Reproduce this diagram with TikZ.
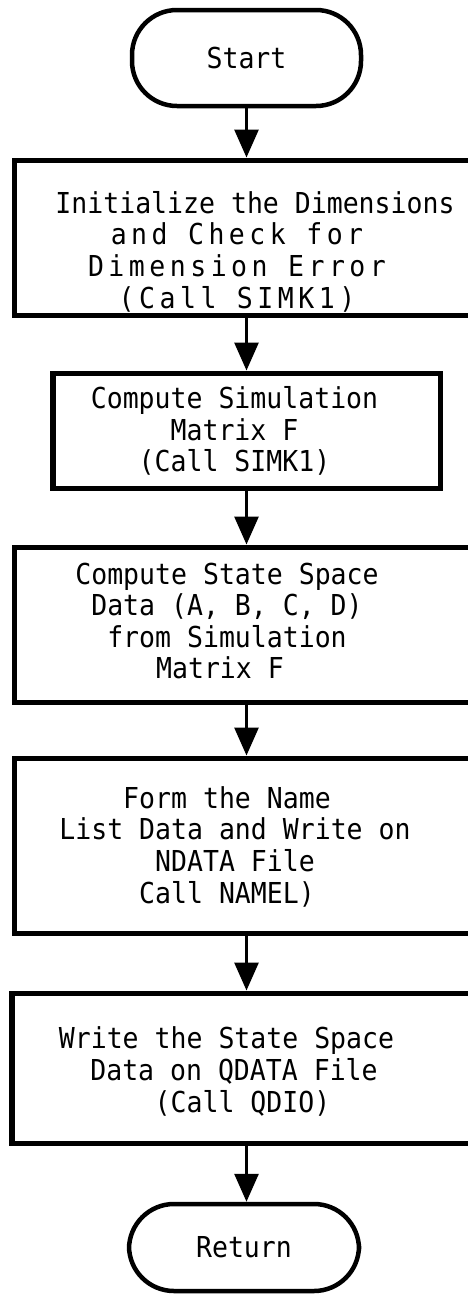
\documentclass[tikz,border=0pt]{standalone}
\usepackage{fontspec}
\usetikzlibrary{arrows.meta}
\newfontfamily\typer[FakeStretch=0.92]{DejaVu Sans Mono}
\newfontfamily\typerwide[FakeStretch=0.92,LetterSpace=15.6]{DejaVu Sans Mono}
\begin{document}
\begin{tikzpicture}[
  term/.style={draw,line width=.09cm,rounded corners=.9cm,font=\typer\fontsize{16.4}{18}\selectfont},
  proc/.style={draw,line width=.1cm},
  txt/.style={align=center,inner sep=0,font=\typer\fontsize{16.4}{18}\selectfont},
  flow/.style={line width=.06cm,-{Triangle[length=.56cm,width=.48cm]}}]
\clip (0,0) rectangle (9.36,-25.94);
\useasboundingbox (0,0) rectangle (9.36,-25.94);
% terminals and boxes
\node[term,minimum width=4.58cm,minimum height=1.92cm] (start) at (4.93,-1.16) {Start};
\node[proc,minimum width=9.7cm,minimum height=3.1cm] (box1) at (5.15,-4.75) {};
\node[proc,minimum width=7.74cm,minimum height=2.3cm] (box2) at (4.93,-8.61) {};
\node[proc,minimum width=9.7cm,minimum height=3.1cm] (box3) at (5.15,-12.49) {};
\node[proc,minimum width=9.7cm,minimum height=3.5cm] (box4) at (5.15,-16.91) {};
\node[proc,minimum width=9.76cm,minimum height=3.0cm] (box5) at (5.12,-21.36) {};
\node[term,minimum width=4.6cm,minimum height=1.74cm] (ret) at (4.88,-24.95) {Return};
% box texts
\node[txt] (t1) at (4.74,-5.03) {\hspace*{.72cm}Initialize the Dimensions\\{\typerwide and Check for}\\
  {\typerwide Dimension Error}\\{\typerwide (Call SIMK1)}};
\node[txt] (t2) at (4.69,-8.62) {Compute Simulation\\Matrix F\\(Call SIMK1)};
\node[txt] (t3) at (4.54,-12.42) {Compute State Space\\Data (A, B, C, D)\hspace*{.68cm}\\
  from Simulation\\Matrix F\hspace*{.28cm}};
\node[txt] (t4) at (4.7,-16.93) {Form the Name\hspace*{.32cm}\\List Data and Write on\\
  NDATA File\\Call NAMEL)\hspace*{.32cm}};
\node[txt] (t5) at (4.68,-21.43) {Write the State Space\hspace*{.3cm}\\Data on QDATA File\\
  \hspace*{.34cm}(Call QDIO)};
% flow lines
\draw[flow] (start.south) -- (start.south |- box1.north);
\draw[flow] (box2.north |- box1.south) -- (box2.north);
\draw[flow] (box2.south) -- (box2.south |- box3.north);
\draw[flow] (box2.south |- box3.south) -- (box2.south |- box4.north);
\draw[flow] (box2.south |- box4.south) -- (box2.south |- box5.north);
\draw[flow] (box2.south |- box5.south) -- (box2.south |- ret.north);
\end{tikzpicture}
\end{document}
